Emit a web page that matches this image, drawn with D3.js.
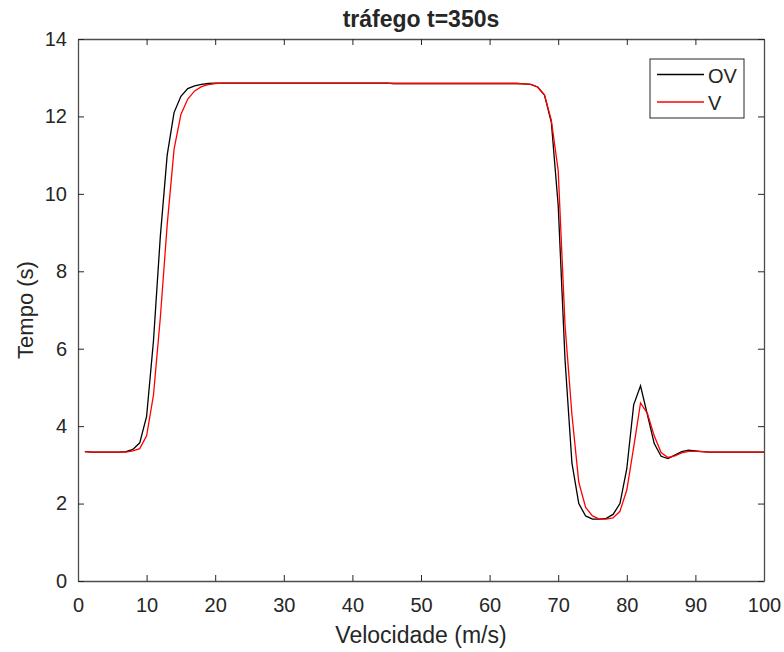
<!DOCTYPE html>
<html>
<head>
<meta charset="utf-8">
<script src="https://cdn.jsdelivr.net/npm/d3@7"></script>
<style>
  body { margin: 0; background: #fff; }
  text { font-family: "Liberation Sans", Arial, sans-serif; fill: #262626; }
</style>
</head>
<body>
<div id="mychart"></div>
<script>
// data
var velocidade = d3.range(1, 101);
var ov = [3.34, 3.33, 3.33, 3.33, 3.33, 3.33, 3.34, 3.40, 3.57, 4.25,
          6.2, 8.9, 11.0, 12.1, 12.52, 12.72, 12.79, 12.83, 12.85, 12.86,
          12.86, 12.86, 12.86, 12.86, 12.86, 12.86, 12.86, 12.86, 12.86, 12.86,
          12.86, 12.86, 12.86, 12.86, 12.86, 12.86, 12.86, 12.86, 12.86, 12.86,
          12.86, 12.86, 12.86, 12.86, 12.86, 12.85, 12.85, 12.85, 12.85, 12.85,
          12.85, 12.85, 12.85, 12.85, 12.85, 12.85, 12.85, 12.85, 12.85, 12.85,
          12.85, 12.85, 12.85, 12.85, 12.84, 12.83, 12.76, 12.55, 11.85, 9.7,
          5.7, 3.05, 2.0, 1.68, 1.6, 1.6, 1.62, 1.72, 2.0, 2.9,
          4.55, 5.04, 4.3, 3.55, 3.22, 3.16, 3.25, 3.34, 3.38, 3.36,
          3.34, 3.33, 3.33, 3.33, 3.33, 3.33, 3.33, 3.33, 3.33, 3.33];
var v  = [3.34, 3.33, 3.33, 3.33, 3.33, 3.33, 3.33, 3.36, 3.42, 3.75,
          4.8, 6.8, 9.2, 11.15, 12.05, 12.45, 12.66, 12.77, 12.82, 12.85,
          12.86, 12.86, 12.86, 12.86, 12.86, 12.86, 12.86, 12.86, 12.86, 12.86,
          12.86, 12.86, 12.86, 12.86, 12.86, 12.86, 12.86, 12.86, 12.86, 12.86,
          12.86, 12.86, 12.86, 12.86, 12.86, 12.85, 12.85, 12.85, 12.85, 12.85,
          12.85, 12.85, 12.85, 12.85, 12.85, 12.85, 12.85, 12.85, 12.85, 12.85,
          12.85, 12.85, 12.85, 12.85, 12.84, 12.83, 12.76, 12.56, 11.9, 10.6,
          6.6, 4.3, 2.55, 1.9, 1.68, 1.6, 1.6, 1.63, 1.8, 2.35,
          3.45, 4.6, 4.33, 3.75, 3.32, 3.19, 3.23, 3.31, 3.35, 3.35,
          3.34, 3.33, 3.33, 3.33, 3.33, 3.33, 3.33, 3.33, 3.33, 3.33];
var xTicks = [0, 10, 20, 30, 40, 50, 60, 70, 80, 90, 100];
var yTicks = [0, 2, 4, 6, 8, 10, 12, 14];
var seriesNames = ["OV", "V"];
var seriesColors = ["#000000", "#ff0000"];

// dimensions
var margin = {left: 78, right: 20, top: 39, bottom: 71};
var width = 784 - margin.left - margin.right,
    height = 652 - margin.top - margin.bottom;

var svg = d3.select("#mychart")
  .append("svg")
    .attr("width", 784)
    .attr("height", 652)
  .append("g")
    .attr("transform", "translate(" + margin.left + "," + margin.top + ")");

var x = d3.scaleLinear().domain([0, 100]).range([0, width]);
var y = d3.scaleLinear().domain([0, 14]).range([height, 0]);

// lines
var line = d3.line()
  .x(function(d) { return x(d[0]); })
  .y(function(d) { return y(d[1]); });

[ov, v].forEach(function(vals, i) {
  svg.append("path")
    .datum(velocidade.map(function(xv, j) { return [xv, vals[j]]; }))
    .attr("fill", "none")
    .attr("stroke", seriesColors[i])
    .attr("stroke-width", 1.3)
    .attr("d", line);
});

// axes (box with inward ticks on all sides)
function styleAxis(g) {
  g.selectAll(".domain").attr("stroke", "#4d4d4d").attr("stroke-width", 1.3);
  g.selectAll(".tick line").attr("stroke", "#262626").attr("stroke-width", 1);
  g.selectAll("text").style("font-size", "20px").attr("fill", "#262626")
    .style("font-family", "'Liberation Sans', Arial, sans-serif");
}

svg.append("g")
  .attr("transform", "translate(0," + height + ")")
  .call(d3.axisBottom(x).tickValues(xTicks).tickSizeInner(-6).tickSizeOuter(0).tickPadding(17))
  .call(styleAxis);
svg.append("g")
  .call(d3.axisTop(x).tickValues(xTicks).tickSizeInner(-6).tickSizeOuter(0).tickFormat(""))
  .call(styleAxis);
svg.append("g")
  .call(d3.axisLeft(y).tickValues(yTicks).tickSizeInner(-6).tickSizeOuter(0).tickPadding(11))
  .call(styleAxis);
svg.append("g")
  .attr("transform", "translate(" + width + ",0)")
  .call(d3.axisRight(y).tickValues(yTicks).tickSizeInner(-6).tickSizeOuter(0).tickFormat(""))
  .call(styleAxis);

// title and labels
svg.append("text")
  .attr("x", width / 2).attr("y", -12)
  .attr("text-anchor", "middle")
  .style("font-size", "23px").style("font-weight", "bold")
  .text("tráfego t=350s");

svg.append("text")
  .attr("x", width / 2).attr("y", height + 62)
  .attr("text-anchor", "middle")
  .style("font-size", "23px")
  .text("Velocidade (m/s)");

svg.append("text")
  .attr("transform", "translate(" + (-45) + "," + (height / 2) + ") rotate(-90)")
  .attr("text-anchor", "middle")
  .style("font-size", "22px")
  .text("Tempo (s)");

// legend
var legend = svg.append("g")
  .attr("transform", "translate(" + (650 - margin.left) + "," + (59 - margin.top) + ")");
legend.append("rect")
  .attr("width", 94).attr("height", 59)
  .attr("fill", "#fff").attr("stroke", "#262626").attr("stroke-width", 1);
seriesNames.forEach(function(name, i) {
  legend.append("line")
    .attr("x1", 7).attr("x2", 54)
    .attr("y1", 15.5 + i * 27.5).attr("y2", 15.5 + i * 27.5)
    .attr("stroke", seriesColors[i]).attr("stroke-width", 1.3);
  legend.append("text")
    .attr("x", 58).attr("y", 24 + i * 27)
    .style("font-size", "20px")
    .text(name);
});
</script>
</body>
</html>
